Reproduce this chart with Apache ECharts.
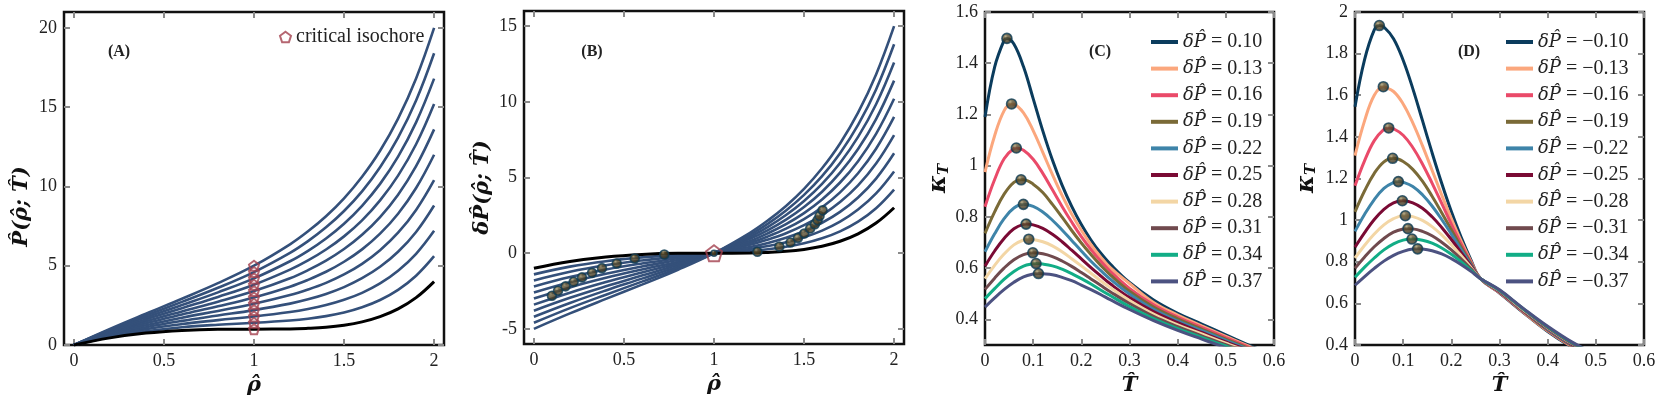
<!DOCTYPE html>
<html>
<head>
<meta charset="utf-8">
<script src="https://cdn.jsdelivr.net/npm/echarts@6/dist/echarts.min.js"></script>
<style>
html, body { margin: 0; padding: 0; background: #fff; }
#main { width: 1661px; height: 402px; }
</style>
</head>
<body>
<div id="main"></div>
<script>
// ---- panel A / B : isotherms vs density ----
var rho = [0, 0.2, 0.4, 0.6, 0.8, 1, 1.2, 1.3, 1.4, 1.5, 1.6, 1.7, 1.8, 1.9, 2];
var pCrit = [0, 0.45, 0.75, 0.92, 0.99, 1, 1.01, 1.05, 1.12, 1.25, 1.46, 1.79, 2.28, 2.99, 4];
var pIso = [
    [0, 0.51, 0.87, 1.12, 1.28, 1.4, 1.55, 1.66, 1.82, 2.05, 2.38, 2.84, 3.48, 4.37, 5.6],
    [0, 0.57, 1.0, 1.32, 1.57, 1.8, 2.08, 2.27, 2.52, 2.85, 3.29, 3.88, 4.68, 5.75, 7.2],
    [0, 0.62, 1.12, 1.52, 1.86, 2.2, 2.61, 2.88, 3.22, 3.65, 4.21, 4.93, 5.88, 7.13, 8.8],
    [0, 0.68, 1.24, 1.72, 2.15, 2.6, 3.15, 3.5, 3.92, 4.45, 5.12, 5.98, 7.08, 8.52, 10.4],
    [0, 0.74, 1.37, 1.92, 2.44, 3.0, 3.68, 4.11, 4.62, 5.25, 6.03, 7.02, 8.28, 9.9, 12],
    [0, 0.79, 1.49, 2.12, 2.73, 3.4, 4.21, 4.72, 5.32, 6.05, 6.95, 8.07, 9.48, 11.28, 13.6],
    [0, 0.85, 1.61, 2.32, 3.03, 3.8, 4.75, 5.33, 6.02, 6.85, 7.86, 9.12, 10.68, 12.66, 15.2],
    [0, 0.91, 1.74, 2.52, 3.32, 4.2, 5.28, 5.94, 6.72, 7.65, 8.78, 10.16, 11.88, 14.04, 16.8],
    [0, 0.97, 1.86, 2.72, 3.61, 4.6, 5.81, 6.55, 7.42, 8.45, 9.69, 11.21, 13.08, 15.42, 18.4],
    [0, 1.02, 1.98, 2.92, 3.9, 5.0, 6.35, 7.17, 8.12, 9.25, 10.61, 12.25, 14.28, 16.81, 20]
];
var isochoreP = [1, 1.4, 1.8, 2.2, 2.6, 3, 3.4, 3.8, 4.2, 4.6, 5];

var dCrit = [-1, -0.55, -0.25, -0.08, -0.01, 0, 0.01, 0.05, 0.12, 0.25, 0.46, 0.79, 1.28, 1.99, 3];
var dIso = [
    [-1.4, -0.89, -0.53, -0.28, -0.12, 0, 0.15, 0.26, 0.42, 0.65, 0.98, 1.44, 2.08, 2.97, 4.2],
    [-1.8, -1.23, -0.8, -0.48, -0.23, 0, 0.28, 0.47, 0.72, 1.05, 1.49, 2.08, 2.88, 3.95, 5.4],
    [-2.2, -1.58, -1.08, -0.68, -0.34, 0, 0.41, 0.68, 1.02, 1.45, 2.01, 2.73, 3.68, 4.93, 6.6],
    [-2.6, -1.92, -1.36, -0.88, -0.45, 0, 0.55, 0.9, 1.32, 1.85, 2.52, 3.38, 4.48, 5.92, 7.8],
    [-3, -2.26, -1.63, -1.08, -0.56, 0, 0.68, 1.11, 1.62, 2.25, 3.03, 4.02, 5.28, 6.9, 9],
    [-3.4, -2.61, -1.91, -1.28, -0.67, 0, 0.81, 1.32, 1.92, 2.65, 3.55, 4.67, 6.08, 7.88, 10.2],
    [-3.8, -2.95, -2.19, -1.48, -0.77, 0, 0.95, 1.53, 2.22, 3.05, 4.06, 5.32, 6.88, 8.86, 11.4],
    [-4.2, -3.29, -2.46, -1.68, -0.88, 0, 1.08, 1.74, 2.52, 3.45, 4.58, 5.96, 7.68, 9.84, 12.6],
    [-4.6, -3.63, -2.74, -1.88, -0.99, 0, 1.21, 1.95, 2.82, 3.85, 5.09, 6.61, 8.48, 10.82, 13.8],
    [-5, -3.98, -3.02, -2.08, -1.1, 0, 1.35, 2.17, 3.12, 4.25, 5.61, 7.25, 9.28, 11.81, 15]
];
var bLeftRho = [0.1, 0.134, 0.176, 0.221, 0.267, 0.323, 0.378, 0.46, 0.56, 0.724];
var bLeftDP = [-2.81, -2.48, -2.19, -1.89, -1.6, -1.3, -0.99, -0.68, -0.35, -0.09];
var bRightRho = [1.241, 1.363, 1.425, 1.466, 1.501, 1.534, 1.56, 1.575, 1.586, 1.603];
var bRightDP = [0.09, 0.44, 0.71, 1.01, 1.3, 1.63, 1.91, 2.18, 2.46, 2.83];

// ---- panel C / D : compressibility vs temperature ----
var tGrid = [0, 0.02, 0.04, 0.06, 0.08, 0.1, 0.12, 0.14, 0.16, 0.18, 0.2, 0.22, 0.24, 0.26, 0.3, 0.35, 0.4, 0.45, 0.5, 0.55, 0.6];
var cLabels = ['0.10', '0.13', '0.16', '0.19', '0.22', '0.25', '0.28', '0.31', '0.34', '0.37'];
var cKappa = [
    [1.19, 1.385, 1.491, 1.475, 1.386, 1.262, 1.136, 1.022, 0.924, 0.841, 0.77, 0.71, 0.659, 0.616, 0.544, 0.476, 0.424, 0.382, 0.34, 0.298, 0.26],
    [0.975, 1.117, 1.216, 1.24, 1.206, 1.137, 1.052, 0.965, 0.884, 0.811, 0.748, 0.692, 0.644, 0.602, 0.54, 0.466, 0.417, 0.375, 0.334, 0.294, 0.258],
    [0.84, 0.946, 1.028, 1.067, 1.06, 1.025, 0.97, 0.906, 0.841, 0.78, 0.723, 0.673, 0.628, 0.588, 0.521, 0.457, 0.409, 0.369, 0.329, 0.29, 0.256],
    [0.736, 0.82, 0.89, 0.935, 0.945, 0.928, 0.895, 0.849, 0.799, 0.747, 0.698, 0.653, 0.611, 0.574, 0.51, 0.448, 0.402, 0.362, 0.323, 0.286, 0.253],
    [0.664, 0.734, 0.794, 0.835, 0.849, 0.841, 0.819, 0.787, 0.749, 0.708, 0.667, 0.627, 0.591, 0.557, 0.499, 0.439, 0.394, 0.356, 0.318, 0.282, 0.251],
    [0.608, 0.667, 0.717, 0.754, 0.771, 0.769, 0.755, 0.732, 0.703, 0.67, 0.636, 0.602, 0.57, 0.539, 0.485, 0.43, 0.387, 0.349, 0.312, 0.278, 0.249],
    [0.559, 0.611, 0.656, 0.691, 0.71, 0.712, 0.703, 0.687, 0.664, 0.637, 0.609, 0.58, 0.551, 0.524, 0.474, 0.421, 0.379, 0.343, 0.307, 0.274, 0.247],
    [0.517, 0.561, 0.601, 0.633, 0.653, 0.66, 0.656, 0.645, 0.628, 0.607, 0.583, 0.558, 0.533, 0.508, 0.462, 0.412, 0.372, 0.336, 0.301, 0.27, 0.244],
    [0.481, 0.52, 0.557, 0.587, 0.608, 0.617, 0.616, 0.609, 0.596, 0.579, 0.559, 0.538, 0.515, 0.493, 0.45, 0.403, 0.364, 0.33, 0.296, 0.266, 0.242],
    [0.448, 0.484, 0.517, 0.545, 0.566, 0.577, 0.578, 0.574, 0.564, 0.551, 0.534, 0.516, 0.497, 0.477, 0.4385, 0.395, 0.357, 0.323, 0.29, 0.262, 0.24]
];
var cPeakT = [0.0455, 0.0552, 0.065, 0.0749, 0.0797, 0.0853, 0.0909, 0.0993, 0.106, 0.111];
var cPeakK = [1.497, 1.241, 1.069, 0.945, 0.849, 0.772, 0.713, 0.66, 0.618, 0.579];

var dLabels = ['\u22120.10', '\u22120.13', '\u22120.16', '\u22120.19', '\u22120.22', '\u22120.25', '\u22120.28', '\u22120.31', '\u22120.34', '\u22120.37'];
var dKappa = [
    [1.545, 1.772, 1.914, 1.928, 1.872, 1.768, 1.632, 1.479, 1.324, 1.177, 1.041, 0.92, 0.813, 0.72, 0.65, 0.555, 0.465, 0.39, 0.33, 0.28, 0.24],
    [1.31, 1.478, 1.6, 1.641, 1.618, 1.558, 1.467, 1.358, 1.24, 1.121, 1.007, 0.901, 0.805, 0.72, 0.652, 0.557, 0.468, 0.393, 0.333, 0.283, 0.243],
    [1.165, 1.286, 1.382, 1.436, 1.439, 1.408, 1.349, 1.27, 1.178, 1.08, 0.981, 0.887, 0.8, 0.72, 0.653, 0.559, 0.471, 0.396, 0.336, 0.286, 0.246],
    [1.04, 1.141, 1.225, 1.28, 1.297, 1.282, 1.244, 1.187, 1.115, 1.036, 0.954, 0.872, 0.794, 0.72, 0.655, 0.562, 0.473, 0.398, 0.338, 0.288, 0.248],
    [0.946, 1.028, 1.099, 1.153, 1.181, 1.182, 1.162, 1.122, 1.068, 1.003, 0.933, 0.86, 0.788, 0.72, 0.657, 0.564, 0.476, 0.401, 0.341, 0.291, 0.251],
    [0.87, 0.94, 1.003, 1.052, 1.083, 1.093, 1.083, 1.057, 1.016, 0.965, 0.907, 0.845, 0.782, 0.72, 0.658, 0.566, 0.479, 0.404, 0.344, 0.294, 0.254],
    [0.818, 0.879, 0.933, 0.977, 1.007, 1.021, 1.017, 0.999, 0.969, 0.929, 0.882, 0.83, 0.775, 0.72, 0.66, 0.568, 0.482, 0.407, 0.347, 0.297, 0.257],
    [0.769, 0.823, 0.872, 0.912, 0.942, 0.957, 0.958, 0.946, 0.925, 0.894, 0.857, 0.814, 0.768, 0.72, 0.662, 0.571, 0.484, 0.409, 0.349, 0.299, 0.259],
    [0.725, 0.774, 0.818, 0.857, 0.886, 0.904, 0.909, 0.903, 0.889, 0.866, 0.836, 0.801, 0.761, 0.72, 0.663, 0.573, 0.487, 0.412, 0.352, 0.302, 0.262],
    [0.687, 0.729, 0.768, 0.803, 0.831, 0.85, 0.861, 0.861, 0.853, 0.838, 0.815, 0.787, 0.755, 0.72, 0.665, 0.575, 0.49, 0.415, 0.355, 0.305, 0.265]
];
var dPeakT = [0.0505, 0.0588, 0.07, 0.0782, 0.09, 0.0983, 0.1045, 0.11, 0.1183, 0.13];
var dPeakK = [1.935, 1.641, 1.443, 1.297, 1.185, 1.093, 1.021, 0.959, 0.909, 0.862];

// tick label values
var rhoTicks = [0, 0.5, 1, 1.5, 2];
var aYTicks = [0, 5, 10, 15, 20];
var bYTicks = [-5, 0, 5, 10, 15];
var tTicks = [0, 0.1, 0.2, 0.3, 0.4, 0.5, 0.6];
var cYTicks = [0.4, 0.6, 0.8, 1, 1.2, 1.4, 1.6];
var dYTicks = [0.4, 0.6, 0.8, 1, 1.2, 1.4, 1.6, 1.8, 2];

var FONT = 'Liberation Serif';
var MATH = 'DejaVu Serif';
var BLUE = '#34507a';
var RED = '#a3404e';
var kColors = ['#0b3c5d', '#fba77d', '#ea4a69', '#7a6a37', '#3e84a9', '#7a0a34', '#f3d6a5', '#704a4e', '#12ad86', '#4c5281'];
var PENT = 'path://M0,-10L9.51,-3.09L5.88,8.09L-5.88,8.09L-9.51,-3.09Z';
var ball = {
    color: {
        type: 'radial', x: 0.38, y: 0.32, r: 0.72,
        colorStops: [
            { offset: 0, color: '#a99b6e' },
            { offset: 0.25, color: '#5f5332' },
            { offset: 1, color: '#2a2312' }
        ]
    },
    borderColor: '#0f3d55',
    borderWidth: 1.6
};

function zip(xs, ys) {
    var out = [];
    for (var i = 0; i < xs.length; i++) out.push([xs[i], ys[i]]);
    return out;
}
function withPeak(vals, pt, pk) {
    var out = zip(tGrid, vals);
    out.push([pt, pk]);
    out.sort(function (a, b) { return a[0] - b[0]; });
    return out;
}

var grids = [
    { left: 64, top: 12, width: 380, height: 333 },
    { left: 524, top: 11, width: 380, height: 333 },
    { left: 985, top: 12, width: 289, height: 333 },
    { left: 1355, top: 12, width: 289, height: 333 }
];
grids.forEach(function (g) {
    g.show = true;
    g.borderColor = '#111';
    g.borderWidth = 2.5;
});

var tick = { show: true, inside: true, length: 6, lineStyle: { color: '#8a8a8a', width: 2 } };
var labelStyle = { color: '#222', fontFamily: FONT, fontSize: 18 };
var nameStyle = { color: '#111', fontFamily: MATH, fontSize: 21, fontWeight: 'bold', fontStyle: 'italic' };

var xAxes = [], yAxes = [];
function addAxes(p, xr, yr, xt, yt, xname, yname, ygap, yNameStyle) {
    xAxes.push({
        type: 'value', gridIndex: p, position: 'bottom', min: xr[0], max: xr[1],
        axisLine: { show: false, onZero: false }, splitLine: { show: false },
        axisTick: Object.assign({ customValues: xt }, tick),
        axisLabel: Object.assign({ customValues: xt, margin: 7 }, labelStyle),
        name: xname, nameLocation: 'middle', nameGap: 29, nameTextStyle: nameStyle
    });
    xAxes.push({
        type: 'value', gridIndex: p, position: 'top', min: xr[0], max: xr[1],
        axisLine: { show: false, onZero: false }, splitLine: { show: false },
        axisTick: Object.assign({ customValues: xt }, tick),
        axisLabel: { show: false }
    });
    yAxes.push({
        type: 'value', gridIndex: p, position: 'left', min: yr[0], max: yr[1],
        axisLine: { show: false, onZero: false }, splitLine: { show: false },
        axisTick: Object.assign({ customValues: yt }, tick),
        axisLabel: Object.assign({ customValues: yt, margin: 7 }, labelStyle),
        name: yname, nameLocation: 'middle', nameRotate: 90, nameGap: ygap,
        nameTextStyle: yNameStyle || nameStyle
    });
    yAxes.push({
        type: 'value', gridIndex: p, position: 'right', min: yr[0], max: yr[1],
        axisLine: { show: false, onZero: false }, splitLine: { show: false },
        axisTick: Object.assign({ customValues: yt }, tick),
        axisLabel: { show: false }
    });
}

var kappaName = Object.assign({}, nameStyle, {
    rich: {
        k: { fontFamily: MATH, fontSize: 24, fontWeight: 'bold', fontStyle: 'italic', color: '#111' },
        s: { fontFamily: MATH, fontSize: 15, fontWeight: 'bold', fontStyle: 'italic', color: '#111', padding: [10, 0, 0, 0] }
    }
});
// push the long rotated names down a little, as in the reference
var aName = Object.assign({}, nameStyle, { padding: [0, 56, 0, 0] });
var bName = Object.assign({}, nameStyle, { padding: [0, 20, 0, 0] });

addAxes(0, [-0.055, 2.055], [0, 21], rhoTicks, aYTicks, '\u03c1\u0302', 'P\u0302(\u03c1\u0302; T\u0302)', 32, aName);
addAxes(1, [-0.055, 2.055], [-6, 16], rhoTicks, bYTicks, '\u03c1\u0302', '\u03b4P\u0302(\u03c1\u0302; T\u0302)', 31, bName);
addAxes(2, [0, 0.6], [0.3, 1.6], tTicks, cYTicks, 'T\u0302', '{k|\u03ba}{s|T}', 32, kappaName);
addAxes(3, [0, 0.6], [0.4, 2], tTicks, dYTicks, 'T\u0302', '{k|\u03ba}{s|T}', 36, kappaName);

var series = [];
function line(p, name, data, color, width) {
    series.push({
        type: 'line', name: name, xAxisIndex: 2 * p, yAxisIndex: 2 * p,
        data: data, smooth: 0.4, symbol: 'none', silent: true, animation: false,
        lineStyle: { color: color, width: width }, itemStyle: { color: color }
    });
}
function dots(p, name, data, size, style, symbol) {
    series.push({
        type: 'scatter', name: name, xAxisIndex: 2 * p, yAxisIndex: 2 * p,
        data: data, symbol: symbol || 'circle', symbolSize: size, itemStyle: style,
        silent: true, animation: false, z: 5
    });
}

// A
pIso.forEach(function (v, k) { line(0, 'A' + k, zip(rho, v), BLUE, 2.6); });
line(0, 'A crit', zip(rho, pCrit), '#000', 3);
dots(0, 'critical isochore', isochoreP.map(function (v) { return [1, v]; }), 10,
    { color: 'rgba(255,255,255,0)', borderColor: RED, borderWidth: 2 }, PENT);

// B
dIso.forEach(function (v, k) { line(1, 'B' + k, zip(rho, v), BLUE, 2.6); });
line(1, 'B crit', zip(rho, dCrit), '#000', 3);
dots(1, 'B left', zip(bLeftRho, bLeftDP), 9, ball);
dots(1, 'B right', zip(bRightRho, bRightDP), 9, ball);
dots(1, 'B centre', [[1, 0]], 6, ball);
dots(1, 'B isochore', [[1, 0]], 16, { color: 'rgba(255,255,255,0)', borderColor: RED, borderWidth: 2 }, PENT);

// C
var cNames = [];
cKappa.forEach(function (v, k) {
    var nm = '\u03b4P\u0302 = ' + cLabels[k];
    cNames.push(nm);
    line(2, nm, withPeak(v, cPeakT[k], cPeakK[k]), kColors[k], 3);
});
dots(2, 'C peaks', zip(cPeakT, cPeakK), 10, ball);

// D
var dNames = [];
dKappa.forEach(function (v, k) {
    var nm = '\u03b4P\u0302 = ' + dLabels[k];
    dNames.push(nm);
    line(3, nm, withPeak(v, dPeakT[k], dPeakK[k]), kColors[k], 3);
});
dots(3, 'D peaks', zip(dPeakT, dPeakK), 10, ball);

function legendText(name) {
    var parts = name.split(' = ');
    return '{i|' + parts[0] + '} = ' + parts[1];
}
var legText = {
    color: '#222', fontFamily: FONT, fontSize: 20, lineHeight: 22,
    rich: { i: { color: '#222', fontFamily: MATH, fontSize: 18, fontStyle: 'italic', lineHeight: 22 } }
};

var myChart = echarts.init(document.getElementById('main'), null, { renderer: 'canvas' });
var option = {
    backgroundColor: '#fff',
    animation: false,
    grid: grids,
    xAxis: xAxes,
    yAxis: yAxes,
    legend: [
        {
            data: ['critical isochore'], left: 274, top: 22, selectedMode: false,
            icon: PENT, itemWidth: 11, itemHeight: 11,
            itemStyle: { color: 'rgba(255,255,255,0)', borderColor: RED, borderWidth: 2 },
            textStyle: { color: '#222', fontFamily: FONT, fontSize: 20 }
        },
        {
            data: cNames, left: 1146, top: 26, orient: 'vertical', selectedMode: false,
            icon: 'rect', itemWidth: 27, itemHeight: 4, itemGap: 4.6,
            formatter: legendText, textStyle: legText
        },
        {
            data: dNames, left: 1501, top: 26, orient: 'vertical', selectedMode: false,
            icon: 'rect', itemWidth: 27, itemHeight: 4, itemGap: 4.6,
            formatter: legendText, textStyle: legText
        }
    ],
    graphic: [
        { type: 'text', x: 119, y: 52, style: { text: '(A)', align: 'center', verticalAlign: 'middle', font: 'bold 16px Liberation Serif', fill: '#222' } },
        { type: 'text', x: 592, y: 52, style: { text: '(B)', align: 'center', verticalAlign: 'middle', font: 'bold 16px Liberation Serif', fill: '#222' } },
        { type: 'text', x: 1100, y: 52, style: { text: '(C)', align: 'center', verticalAlign: 'middle', font: 'bold 16px Liberation Serif', fill: '#222' } },
        { type: 'text', x: 1469, y: 52, style: { text: '(D)', align: 'center', verticalAlign: 'middle', font: 'bold 16px Liberation Serif', fill: '#222' } }
    ],
    series: series
};
myChart.setOption(option);
</script>
</body>
</html>
